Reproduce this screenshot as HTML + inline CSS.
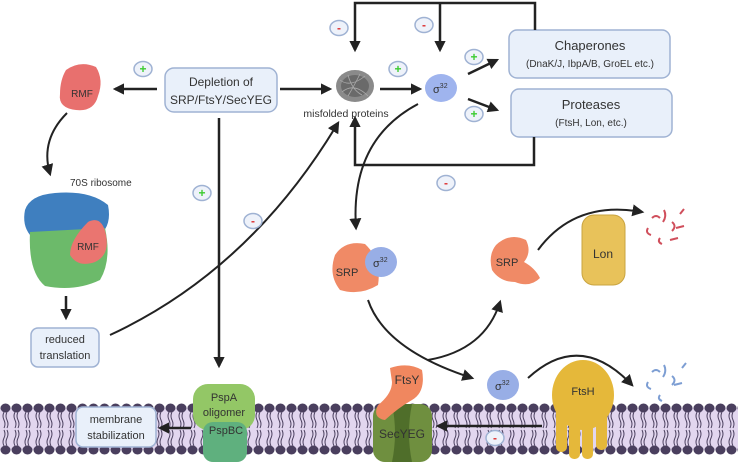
<!DOCTYPE html>
<html><head><meta charset="utf-8"><style>
body{margin:0;background:#fff}
svg{display:block}
text{font-family:"Liberation Sans",sans-serif;fill:#333}
</style></head><body>
<svg width="738" height="464" viewBox="0 0 738 464" xmlns="http://www.w3.org/2000/svg">
<defs>
<marker id="a" viewBox="0 0 10 10" refX="8" refY="5" markerWidth="4.5" markerHeight="4.5" orient="auto"><path d="M0,0L10,5L0,10z" fill="#222"/></marker>
<marker id="s" viewBox="0 0 10 10" refX="8" refY="5" markerWidth="6" markerHeight="6" orient="auto"><path d="M0,0L10,5L0,10z" fill="#222"/></marker>
<pattern id="mem" x="0" y="402" width="11" height="54" patternUnits="userSpaceOnUse">
<ellipse cx="5.5" cy="6" rx="5" ry="4.5" fill="#4a3f5e"/>
<ellipse cx="5.5" cy="48" rx="5" ry="4.5" fill="#4a3f5e"/>
<path d="M4,10q-2,4 0,8q2,4 0,8M7,10q-2,4 0,8q2,4 0,8M4,44q-2,-4 0,-8q2,-4 0,-8M7,44q-2,-4 0,-8q2,-4 0,-8" stroke="#4a3f5e" stroke-width="1" fill="none"/>
</pattern>
</defs>
<!-- membrane -->
<rect x="0" y="408" width="738" height="42" fill="#e2d6ef"/>
<rect x="0" y="402" width="738" height="54" fill="url(#mem)"/>

<!-- boxes -->
<g fill="#e9f0fa" stroke="#9fb2d3" stroke-width="1.5">
<rect x="165" y="68" width="112" height="44" rx="9"/>
<rect x="509" y="30" width="161" height="48" rx="8"/>
<rect x="511" y="89" width="161" height="48" rx="8"/>
<rect x="31" y="328" width="68" height="39" rx="7"/>
<rect x="76" y="407" width="80" height="40" rx="7"/>
</g>
<text x="221" y="86" font-size="12" text-anchor="middle">Depletion of</text>
<text x="221" y="104" font-size="12" text-anchor="middle">SRP/FtsY/SecYEG</text>
<text x="590" y="50" font-size="13" text-anchor="middle">Chaperones</text>
<text x="590" y="67" font-size="10" text-anchor="middle">(DnaK/J, IbpA/B, GroEL etc.)</text>
<text x="591" y="109" font-size="13" text-anchor="middle">Proteases</text>
<text x="591" y="126" font-size="10" text-anchor="middle">(FtsH, Lon, etc.)</text>
<text x="65" y="343" font-size="11" text-anchor="middle">reduced</text>
<text x="65" y="359" font-size="11" text-anchor="middle">translation</text>
<text x="116" y="423" font-size="11" text-anchor="middle">membrane</text>
<text x="116" y="439" font-size="11" text-anchor="middle">stabilization</text>

<!-- lines -->
<g stroke="#222" stroke-width="2.5" fill="none">
<path d="M535,30V3H355V50" marker-end="url(#a)"/>
<path d="M440,3V50" marker-end="url(#a)"/>
<path d="M534,137V165H355V118" marker-end="url(#a)"/>
<path d="M157,89H115" marker-end="url(#a)"/>
<path d="M280,89H330" marker-end="url(#a)"/>
<path d="M380,89H420" marker-end="url(#a)"/>
<path d="M468,74L497,60" marker-end="url(#a)"/>
<path d="M468,99L497,110" marker-end="url(#a)"/>
<path d="M219,118V366" marker-end="url(#a)"/>
<path d="M66,296V318" marker-end="url(#a)"/>
<path d="M191,428H160" marker-end="url(#a)"/>
<path d="M542,426H438" marker-end="url(#a)"/>
</g>
<g stroke="#222" stroke-width="2" fill="none">
<path d="M67,113Q40,140 50,174" marker-end="url(#s)"/>
<path d="M110,335Q250,270 338,123" marker-end="url(#s)"/>
<path d="M418,104Q350,140 356,228" marker-end="url(#s)"/>
<path d="M368,300Q385,350 472,378" marker-end="url(#s)"/>
<path d="M428,360Q485,350 500,302" marker-end="url(#s)"/>
<path d="M538,250Q575,200 642,212" marker-end="url(#s)"/>
<path d="M528,378Q580,330 632,385" marker-end="url(#s)"/>
</g>

<!-- plus/minus circles -->
<g stroke="#9fb2d3" stroke-width="1.5" fill="#eef2fa">
<ellipse cx="143" cy="69" rx="9" ry="7.5"/><ellipse cx="398" cy="69" rx="9" ry="7.5"/>
<ellipse cx="474" cy="57" rx="9" ry="7.5"/><ellipse cx="474" cy="114" rx="9" ry="7.5"/>
<ellipse cx="202" cy="193" rx="9" ry="7.5"/>
<ellipse cx="339" cy="28" rx="9" ry="7.5"/><ellipse cx="424" cy="25" rx="9" ry="7.5"/>
<ellipse cx="446" cy="183" rx="9" ry="7.5"/><ellipse cx="253" cy="221" rx="9" ry="7.5"/>
<ellipse cx="495" cy="438" rx="9" ry="7.5"/>
</g>
<g font-size="12" text-anchor="middle" font-weight="bold">
<text x="143" y="73" style="fill:#3ccc30">+</text><text x="398" y="73" style="fill:#3ccc30">+</text>
<text x="474" y="61" style="fill:#3ccc30">+</text><text x="474" y="118" style="fill:#3ccc30">+</text>
<text x="202" y="197" style="fill:#3ccc30">+</text>
<text x="339" y="32" style="fill:#d33">-</text><text x="424" y="29" style="fill:#d33">-</text>
<text x="446" y="187" style="fill:#d33">-</text><text x="253" y="225" style="fill:#d33">-</text>
<text x="495" y="442" style="fill:#d33">-</text>
</g>

<!-- misfolded proteins -->
<ellipse cx="355" cy="86" rx="19" ry="16" fill="#8a8a8a"/>
<ellipse cx="355" cy="86" rx="14" ry="11" fill="#6a6a6a"/>
<g stroke="#aaa" stroke-width="0.8" fill="none"><path d="M340,80q10,8 25,-4M342,92q12,-10 26,4M348,75q4,15 14,20M360,74q-6,12 -12,22"/></g>
<text x="346" y="117" font-size="10.5" text-anchor="middle">misfolded proteins</text>
<!-- sigma32 -->
<ellipse cx="441" cy="88" rx="16" ry="14" fill="#9fb4ee"/>
<text x="433" y="93" font-size="11">σ<tspan font-size="7" dy="-5">32</tspan></text>

<!-- RMF -->
<path d="M66,70Q80,60 96,67Q104,80 98,96Q94,112 76,110Q58,108 60,94Q60,80 66,70z" fill="#e8706e"/>
<text x="82" y="97" font-size="10" text-anchor="middle">RMF</text>
<text x="70" y="186" font-size="10">70S ribosome</text>
<!-- ribosome -->
<path d="M25,210Q30,195 55,193Q90,190 108,205Q112,225 100,235L30,235Q22,225 25,210z" fill="#3f7fbf"/>
<path d="M30,232L105,228Q112,260 100,280Q75,292 45,286Q28,272 30,232z" fill="#6cba6a"/>
<path d="M88,222Q102,215 106,235Q110,255 95,262Q78,268 70,255Q70,240 88,222z" fill="#ea7570"/>
<text x="88" y="250" font-size="10" text-anchor="middle">RMF</text>

<!-- SRP-sigma complex -->
<path d="M335,255Q345,240 365,244Q382,260 378,285Q360,296 340,290Q328,275 335,255z" fill="#f08a66"/>
<ellipse cx="381" cy="262" rx="16" ry="15" fill="#98aee6"/>
<text x="347" y="276" font-size="11" text-anchor="middle">SRP</text>
<text x="373" y="267" font-size="11">σ<tspan font-size="7" dy="-5">32</tspan></text>
<!-- SRP free -->
<path d="M496,245Q510,232 526,240Q532,252 524,262Q535,268 540,278Q530,288 515,282Q500,282 492,270Q488,255 496,245z" fill="#f08a66"/>
<text x="507" y="266" font-size="11" text-anchor="middle">SRP</text>
<!-- Lon -->
<rect x="582" y="215" width="43" height="70" rx="12" fill="#e8c25a" stroke="#c9a440"/>
<text x="603" y="258" font-size="12" text-anchor="middle">Lon</text>
<!-- red degraded -->
<g stroke="#d04f5c" stroke-width="2" fill="none">
<path d="M652,218q4,-4 8,0M664,210q3,6 -1,12M648,228q-3,5 3,7M672,222q5,4 0,9M676,228l8,-2M660,238q-3,4 2,6M680,214l4,-5M670,240l8,-2"/>
</g>
<!-- sigma near FtsH -->
<ellipse cx="503" cy="385" rx="16" ry="15" fill="#98aee6"/>
<text x="495" y="390" font-size="11">σ<tspan font-size="7" dy="-5">32</tspan></text>
<!-- FtsH -->
<g fill="#e5b83a">
<ellipse cx="583" cy="395" rx="31" ry="35"/>
<rect x="556" y="400" width="11" height="52" rx="5"/><rect x="569" y="405" width="11" height="54" rx="5"/>
<rect x="582" y="405" width="11" height="54" rx="5"/><rect x="596" y="400" width="11" height="50" rx="5"/>
</g>
<text x="583" y="395" font-size="11" text-anchor="middle">FtsH</text>
<!-- blue degraded -->
<g stroke="#7d9ed3" stroke-width="2" fill="none">
<path d="M652,372q4,-4 8,0M664,365q3,6 -1,12M648,382q-3,5 3,7M672,376q5,4 0,9M674,385l8,-2M660,395q-3,4 2,6M682,368l4,-5"/>
</g>
<!-- SecYEG & FtsY -->
<rect x="373" y="404" width="59" height="58" rx="12" fill="#6f8f3f"/>
<path d="M392,404h20q-6,29 0,58h-20q6,-29 0,-58z" fill="#4f6e2a"/>
<text x="402" y="438" font-size="12" text-anchor="middle">SecYEG</text>
<path d="M390,368Q408,362 422,370Q426,392 412,400Q398,408 385,420Q372,418 378,405Q392,394 392,382z" fill="#f0875f"/>
<text x="407" y="384" font-size="12" text-anchor="middle">FtsY</text>
<!-- PspA/PspBC -->
<rect x="193" y="384" width="62" height="46" rx="15" fill="#93c766"/>
<rect x="203" y="422" width="44" height="40" rx="10" fill="#5fb07e"/>
<text x="224" y="401" font-size="11" text-anchor="middle">PspA</text>
<text x="224" y="416" font-size="11" text-anchor="middle">oligomer</text>
<text x="226" y="434" font-size="11" text-anchor="middle">PspBC</text>
</svg>
</body></html>
